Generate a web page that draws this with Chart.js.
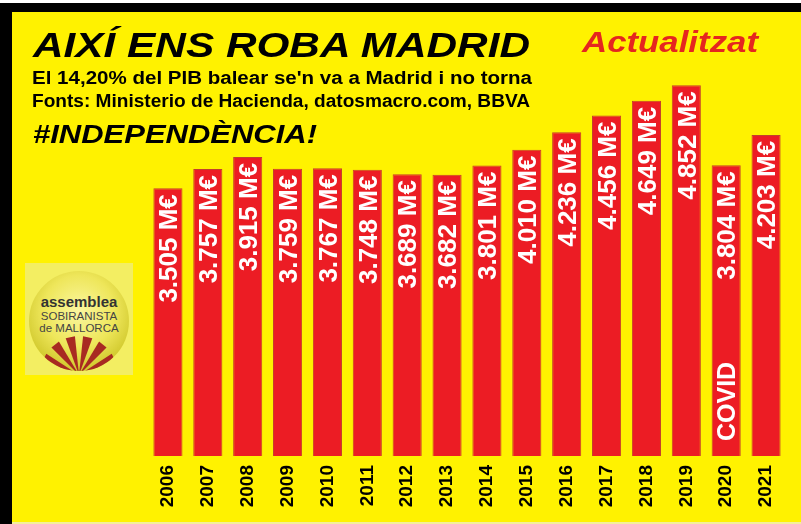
<!DOCTYPE html>
<html>
<head>
<meta charset="utf-8">
<script src="https://cdn.jsdelivr.net/npm/chart.js@4.4.1/dist/chart.umd.min.js"></script>
<style>
  html,body{margin:0;padding:0;background:#fff;}
  #wrap{position:relative;width:801px;height:524px;overflow:hidden;background:#fff200;}
  #topband{position:absolute;left:0;top:0;width:801px;height:12px;background:#000;border-top:3px solid #fff;box-sizing:border-box;}
  #leftband{position:absolute;left:0;top:3px;width:12px;height:521px;background:#000;}
  #bottomline{position:absolute;left:12px;top:522px;width:789px;height:2px;background:#f4ef9a;}
  canvas{position:absolute;left:0;top:0;}
  .hdr{position:absolute;white-space:nowrap;line-height:1;transform-origin:left top;font-family:"Liberation Sans",Arial,sans-serif;font-weight:bold;}
  #logo{position:absolute;left:25px;top:263px;}
</style>
</head>
<body>
<div id="wrap">
  <canvas id="c" width="801" height="524"></canvas>
  <div id="topband"></div>
  <div id="leftband"></div>
  <div id="bottomline"></div>
  <span class="hdr" id="h1" style="font-size:35px;font-style:italic;color:#000;">AIXÍ ENS ROBA MADRID</span>
  <span class="hdr" id="h2" style="font-size:29px;font-style:italic;color:#e5261f;">Actualitzat</span>
  <span class="hdr" id="h3" style="font-size:18px;color:#000;">El 14,20% del PIB balear se'n va a Madrid i no torna</span>
  <span class="hdr" id="h4" style="font-size:18px;color:#000;">Fonts: Ministerio de Hacienda, datosmacro.com, BBVA</span>
  <span class="hdr" id="h5" style="font-size:25px;font-style:italic;color:#000;">#INDEPENDÈNCIA!</span>
  <svg id="logo" width="108" height="112" viewBox="0 0 108 112">
    <defs>
      <radialGradient id="g" cx="50%" cy="40%" r="60%">
        <stop offset="0" stop-color="#fbf7a0"/>
        <stop offset="0.6" stop-color="#eee65a"/>
        <stop offset="1" stop-color="#cfc72a"/>
      </radialGradient>
      <clipPath id="cp"><circle cx="54" cy="58" r="50"/></clipPath>
    </defs>
    <rect x="0" y="0" width="108" height="112" fill="#f3ee62"/>
    <circle cx="54" cy="58" r="50" fill="url(#g)"/>
    <g clip-path="url(#cp)" fill="#a82a22" id="rays"></g>
    <text x="54" y="44" text-anchor="middle" font-family="Liberation Sans, Arial, sans-serif" font-weight="bold" font-size="15" fill="#333">assemblea</text>
    <text x="54" y="57" text-anchor="middle" font-family="Liberation Sans, Arial, sans-serif" font-size="11.5" fill="#444">SOBIRANISTA</text>
    <text x="54" y="69" text-anchor="middle" font-family="Liberation Sans, Arial, sans-serif" font-size="11.5" fill="#444">de MALLORCA</text>
  </svg>
</div>
<script>
// ---- data ----
const years = ['2006','2007','2008','2009','2010','2011','2012','2013','2014','2015','2016','2017','2018','2019','2020','2021'];
const values = [3505, 3757, 3915, 3759, 3767, 3748, 3689, 3682, 3801, 4010, 4236, 4456, 4649, 4852, 3804, 4203];
const unit = 'M€';
const notes = ['', '', '', '', '', '', '', '', '', '', '', '', '', '', 'COVID', ''];

function fmt(v){
  const th = Math.floor(v/1000), r = v % 1000;
  return th + '.' + String(r).padStart(3,'0') + ' ' + unit;
}

// logo rays (decoration)
(function(){
  const g = document.getElementById('rays');
  const ax = 54, ay = 112, R = 39;
  [-64, -38, -13, 13, 38, 64].forEach(c => {
    const a1 = (c - 7) * Math.PI/180, a2 = (c + 7) * Math.PI/180;
    const p = document.createElementNS('http://www.w3.org/2000/svg', 'polygon');
    p.setAttribute('points', ax + ',' + ay + ' ' +
      (ax + R*Math.sin(a1)) + ',' + (ay - R*Math.cos(a1)) + ' ' +
      (ax + R*Math.sin(a2)) + ',' + (ay - R*Math.cos(a2)));
    g.appendChild(p);
  });
})();

const FONT = '"Liberation Sans", Arial, sans-serif';

const barLabels = {
  id: 'barLabels',
  afterDatasetsDraw(chart){
    const ctx = chart.ctx;
    const meta = chart.getDatasetMeta(0);
    const area = chart.chartArea;
    meta.data.forEach((bar, i) => {
      const F = 26;
      ctx.save();
      ctx.fillStyle = '#fff';
      ctx.font = 'bold ' + F + 'px ' + FONT;
      ctx.translate(bar.x, bar.y + 6);
      ctx.rotate(-Math.PI/2);
      ctx.textAlign = 'right';
      ctx.textBaseline = 'alphabetic';
      ctx.fillText(fmt(values[i]), 0, 0.358*F);
      ctx.restore();
      if (notes[i]) {
        const G = 25;
        ctx.save();
        ctx.fillStyle = '#fff';
        ctx.font = 'bold ' + G + 'px ' + FONT;
        ctx.translate(bar.x, area.bottom - 15);
        ctx.rotate(-Math.PI/2);
        ctx.textAlign = 'left';
        ctx.textBaseline = 'alphabetic';
        ctx.fillText(notes[i], 0, 0.358*G);
        ctx.restore();
      }
    });
  }
};

new Chart(document.getElementById('c'), {
  type: 'bar',
  data: {
    labels: years,
    datasets: [{
      data: values,
      backgroundColor: '#ec1c24',
      borderColor: '#c4402a',
      borderWidth: 1,
      categoryPercentage: 1,
      barPercentage: 0.73
    }]
  },
  options: {
    responsive: false,
    animation: false,
    devicePixelRatio: 1,
    layout: { padding: { left: 148, right: 15, top: 74, bottom: 0 } },
    plugins: { legend: { display: false }, tooltip: { enabled: false }, title: { display: false } },
    scales: {
      x: {
        grid: { display: false, drawTicks: false },
        border: { display: false },
        ticks: {
          autoSkip: false, minRotation: 90, maxRotation: 90, padding: 9,
          color: '#000', font: { family: FONT, size: 19, weight: 'bold' }
        },
        afterFit(s){ s.height = 68; }
      },
      y: { display: false, min: 0, max: 5000 }
    }
  },
  plugins: [barLabels]
});

// header text placement: left, baseline, target width
const hdrs = [
  ['h1', 33, 57, 497],
  ['h2', 582, 53, 176],
  ['h3', 32, 84, 500],
  ['h4', 32, 107, 498],
  ['h5', 33, 143, 284]
];
hdrs.forEach(([id, left, base, w]) => {
  const el = document.getElementById(id);
  const fs = parseFloat(el.style.fontSize);
  el.style.left = left + 'px';
  el.style.top = (base - 0.8465*fs) + 'px';
  const nat = el.getBoundingClientRect().width;
  el.style.transform = 'scaleX(' + (w/nat) + ')';
});
</script>
</body>
</html>
